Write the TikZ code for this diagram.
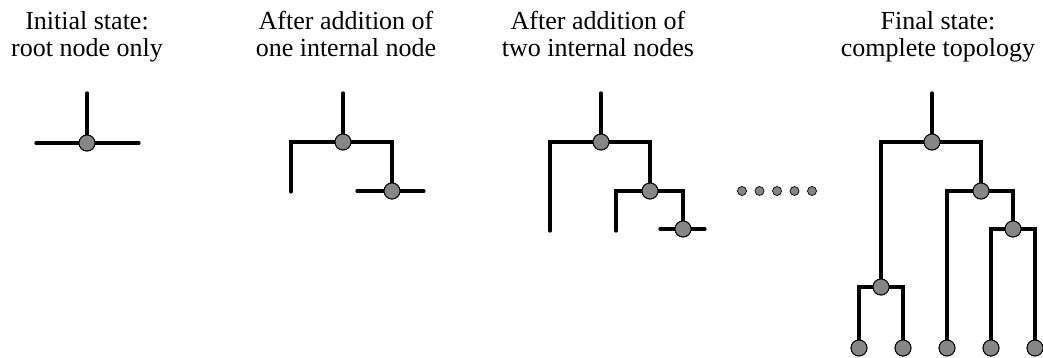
\documentclass[tikz,border=0pt]{standalone}
\usepackage{fontspec}
\setmainfont{Liberation Serif}
\begin{document}
\begin{tikzpicture}[x=1pt,y=-1pt,
  branch/.style={line width=3.3pt,line cap=round},
  vtx/.style={circle,draw=black,line width=0.9pt,fill=gray!95!white,minimum size=16pt,inner sep=0pt},
  gap/.style={circle,draw=black,line width=0.7pt,fill=gray!95!white,minimum size=9pt,inner sep=0pt},
  caption/.style={align=center,font=\fontsize{26}{27}\selectfont,anchor=base}]
\useasboundingbox (0,0) rectangle (1043,358);

% captions (anchored on the baseline of the second line)
\node[caption] (c1) at (87,57)  {Initial state:\\root node only};
\node[caption] (c2) at (346,57) {After addition of\\one internal node};
\node[caption] (c3) at (598,57) {After addition of\\two internal nodes};
\node[caption] (c4) at (938,57) {Final state:\\complete topology};

% stage 1: root only
\coordinate (a0) at (87,93);
\coordinate (aL) at (36,143);
\coordinate (aR) at (139,143);
\node[vtx] (a1) at (87,143) {};
\draw[branch] (a0) -- (a1) (aL) -- (a1) -- (aR);
\node[vtx] at (a1) {};

% stage 2: one internal node
\coordinate (b0) at (343,93);
\coordinate (bL) at (291,192);
\coordinate (bc) at (291,142);
\coordinate (bd) at (392,142);
\coordinate (bL2) at (357,191);
\coordinate (bR2) at (424,191);
\node[vtx] (b1) at (343,142) {};
\node[vtx] (b2) at (392,191) {};
\draw[branch] (b0) -- (b1);
\draw[branch] (bL) -- (bc) -- (bd) -- (b2);
\draw[branch] (bL2) -- (bR2);
\node[vtx] at (b1) {};
\node[vtx] at (b2) {};

% stage 3: two internal nodes
\coordinate (c0) at (601,93);
\coordinate (cL) at (550,231);
\coordinate (cc) at (550,142);
\coordinate (cd) at (650,142);
\coordinate (ce) at (616,191);
\coordinate (cf) at (683,191);
\coordinate (cg) at (616,231);
\coordinate (ch) at (660,229);
\coordinate (ci) at (705,229);
\node[vtx] (k1) at (601,142) {};
\node[vtx] (k2) at (650,191) {};
\node[vtx] (k3) at (683,229) {};
\draw[branch] (c0) -- (k1);
\draw[branch] (cL) -- (cc) -- (cd) -- (k2);
\draw[branch] (cg) -- (ce) -- (cf) -- (k3);
\draw[branch] (ch) -- (ci);
\node[vtx] at (k1) {};
\node[vtx] at (k2) {};
\node[vtx] at (k3) {};

% ellipsis
\foreach \i/\x in {1/742,2/759.5,3/777,4/794.5,5/812}
  \node[gap] (dot\i) at (\x,191) {};

% stage 4: complete topology
\coordinate (d0) at (932,93);
\coordinate (dA) at (881,142);
\coordinate (dB) at (981,142);
\coordinate (dC) at (947,191);
\coordinate (dD) at (1013,191);
\coordinate (dE) at (991,229);
\coordinate (dF) at (1035,229);
\coordinate (dG) at (859,287);
\coordinate (dH) at (903,287);
\node[vtx] (r1) at (932,142) {};
\node[vtx] (r2) at (981,191) {};
\node[vtx] (r3) at (1013,229) {};
\node[vtx] (r4) at (881,287) {};
\node[vtx] (l1) at (859,348) {};
\node[vtx] (l2) at (903,348) {};
\node[vtx] (l3) at (947,348) {};
\node[vtx] (l4) at (991,348) {};
\node[vtx] (l5) at (1035,348) {};
\draw[branch] (d0) -- (r1);
\draw[branch] (r4) -- (dA) -- (dB) -- (r2);
\draw[branch] (l3) -- (dC) -- (dD) -- (r3);
\draw[branch] (l4) -- (dE) -- (dF) -- (l5);
\draw[branch] (l1) -- (dG) -- (dH) -- (l2);
\foreach \n in {r1,r2,r3,r4,l1,l2,l3,l4,l5} \node[vtx] at (\n) {};
\end{tikzpicture}
\end{document}
